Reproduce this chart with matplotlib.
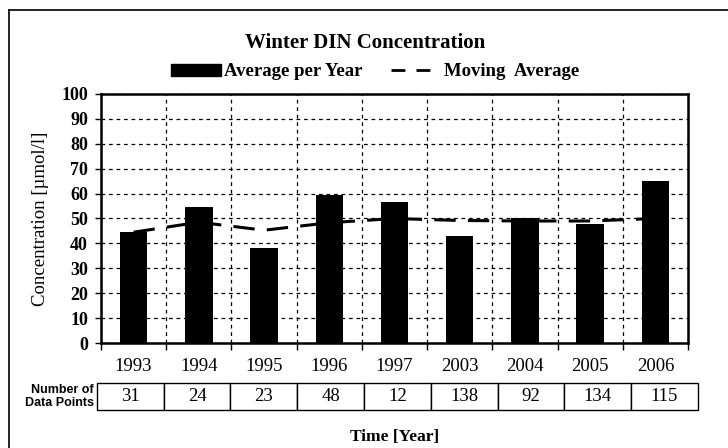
import matplotlib
matplotlib.use("Agg")
import matplotlib.pyplot as plt
from matplotlib.lines import Line2D
from matplotlib.patches import Patch

# Datos
years = ["1993", "1994", "1995", "1996", "1997", "2003", "2004", "2005", "2006"]
avg_per_year = [44.5, 54.7, 38.3, 59.3, 56.5, 43.0, 50.0, 47.7, 65.0]
moving_avg = [44.5, 48.5, 45.3, 48.3, 50.0, 49.2, 49.0, 49.0, 50.0]
n_points = ["31", "24", "23", "48", "12", "138", "92", "134", "115"]
y_ticks = [0, 10, 20, 30, 40, 50, 60, 70, 80, 90, 100]

SERIF = ["Liberation Serif", "DejaVu Serif"]
NARROW = ["Liberation Sans Narrow", "Liberation Sans", "DejaVu Sans"]


def dibujar():
    fig = plt.figure(figsize=(7.28, 4.48), dpi=100)
    ax = fig.add_axes([101 / 728, 1 - 343 / 448, 587 / 728, 249 / 448])

    x = list(range(len(years)))
    ax.bar(x, avg_per_year, width=0.42, color="black", zorder=3)
    ax.plot(x, moving_avg, color="black", lw=2.2, dashes=(7, 4), zorder=4)

    ax.set_xlim(-0.5, len(years) - 0.5)
    ax.set_ylim(0, 100)
    ax.set_yticks(y_ticks)
    ax.set_yticklabels([str(v) for v in y_ticks], fontfamily=SERIF,
                       fontweight="bold", fontsize=13)
    ax.set_xticks(x)
    ax.set_xticklabels(years, fontfamily=SERIF, fontsize=13.5)
    ax.set_xticks([i - 0.5 for i in range(len(years) + 1)], minor=True)

    ax.tick_params(axis="x", which="major", length=0, pad=11)
    ax.tick_params(axis="x", which="minor", length=5, width=1, direction="out")
    ax.tick_params(axis="y", length=4.3, width=1, pad=5, direction="out")

    # rejilla punteada
    ax.grid(True, axis="y", which="major", color="black", lw=0.9,
            linestyle=(0, (3, 3)), zorder=1)
    ax.grid(True, axis="x", which="minor", color="black", lw=0.9,
            linestyle=(0, (3, 3)), zorder=1)
    for s in ax.spines.values():
        s.set_linewidth(1.8)

    ax.set_ylabel("Concentration [µmol/l]", fontfamily=SERIF, fontsize=13.5)
    ax.yaxis.set_label_coords(-0.0886, 0.5)

    # tabla con numero de datos
    tabla = ax.table(cellText=[n_points], cellLoc="center",
                     bbox=[-0.007, -0.269, 1.024, 0.108])
    tabla.auto_set_font_size(False)
    for cell in tabla.get_celld().values():
        cell.set_linewidth(1.0)
        cell.get_text().set_fontfamily(SERIF)
        cell.get_text().set_fontsize(13.5)

    ax.text(-0.012, -0.215, "Number of\nData Points", transform=ax.transAxes,
            ha="right", va="center", fontfamily=NARROW, fontweight="bold",
            fontsize=9, linespacing=1.1)
    ax.text(0.5, -0.377, "Time [Year]", transform=ax.transAxes, ha="center",
            va="center", fontfamily=SERIF, fontweight="bold", fontsize=12.5)

    fig.text(365 / 728, 1 - 43 / 448, "Winter DIN Concentration", ha="center",
             va="center", fontfamily=SERIF, fontweight="bold", fontsize=15)

    handles = [Patch(facecolor="black", edgecolor="black"),
               Line2D([], [], color="black", lw=2.0, dashes=(5, 4))]
    fig.legend(handles, ["Average per Year", "Moving  Average"], ncol=2,
               loc="center", bbox_to_anchor=(375 / 728, 1 - 72 / 448),
               frameon=False, prop={"family": SERIF, "weight": "bold", "size": 13.5},
               handlelength=2.67, handleheight=0.6, handletextpad=0.15,
               columnspacing=1.5)

    # marco exterior
    fig.add_artist(Line2D([9 / 728, 1.0], [1 - 10 / 448, 1 - 10 / 448],
                          transform=fig.transFigure, color="black", lw=1.2))
    fig.add_artist(Line2D([9 / 728, 9 / 728], [0.0, 1 - 10 / 448],
                          transform=fig.transFigure, color="black", lw=1.2))

    fig.savefig("out.png", dpi=100)


if __name__ == "__main__":
    dibujar()
